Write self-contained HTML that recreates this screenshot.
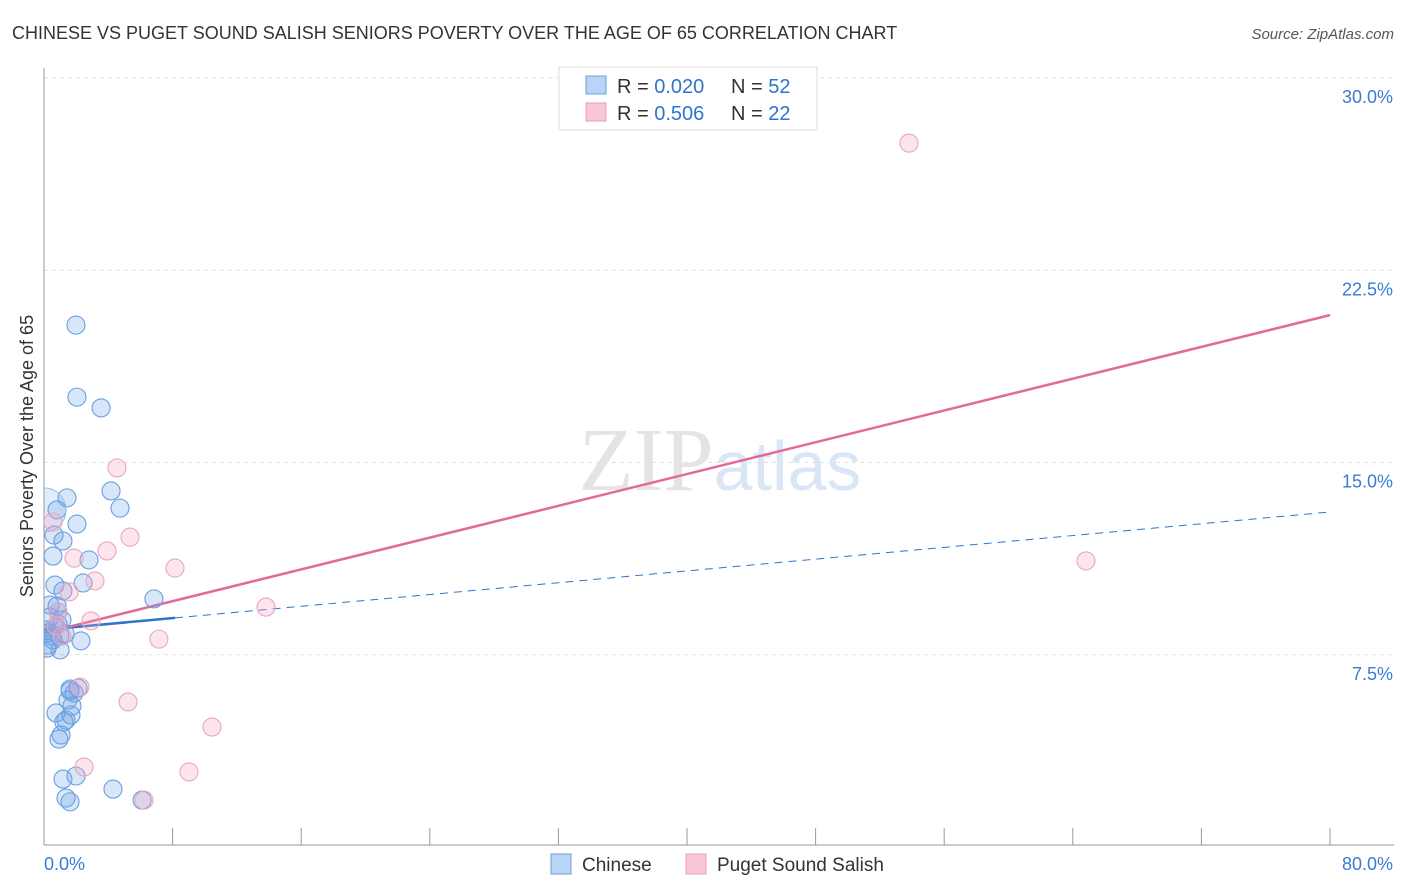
<!DOCTYPE html>
<html><head><meta charset="utf-8"><style>
body{margin:0;background:#fff;font-family:"Liberation Sans",sans-serif;}
svg{display:block}
</style></head><body>
<svg id="chart" width="1406" height="892" viewBox="0 0 1406 892" xmlns="http://www.w3.org/2000/svg">
<defs><clipPath id="plotclip"><rect x="44" y="60" width="1360" height="785"/></clipPath></defs>
<text x="12" y="39" font-size="18" fill="#333">CHINESE VS PUGET SOUND SALISH SENIORS POVERTY OVER THE AGE OF 65 CORRELATION CHART</text>
<text x="1394" y="39" font-size="15" fill="#555" text-anchor="end" font-style="italic">Source: ZipAtlas.com</text>
<text x="720" y="490" font-size="90" text-anchor="middle" font-family="Liberation Serif" fill="#e4e4e4">ZIP<tspan fill="#d8e6f6" font-family="Liberation Sans" font-size="70">atlas</tspan></text>
<text transform="translate(33,456) rotate(-90)" font-size="18" fill="#333" text-anchor="middle">Seniors Poverty Over the Age of 65</text>
<g id="grid"></g><g id="axes"></g><g id="lines"></g><g id="pts" clip-path="url(#plotclip)"></g>
<g>
<rect x="559" y="67" width="258" height="63" fill="#fff" stroke="#ddd"/>
<rect x="586" y="76" width="20" height="18" fill="#b8d4f6" stroke="#6a9fe0"/>
<text x="617" y="93" font-size="20" fill="#333">R = <tspan fill="#2f73d0">0.020</tspan></text>
<text x="731" y="93" font-size="20" fill="#333">N = <tspan fill="#2f73d0">52</tspan></text>
<rect x="586" y="103" width="20" height="18" fill="#f9c8d8" stroke="#e8a0b8"/>
<text x="617" y="120" font-size="20" fill="#333">R = <tspan fill="#2f73d0">0.506</tspan></text>
<text x="731" y="120" font-size="20" fill="#333">N = <tspan fill="#2f73d0">22</tspan></text>
</g>
<g>
<rect x="551" y="854" width="20" height="20" fill="#b8d4f6" stroke="#6a9fe0"/>
<text x="582" y="871" font-size="19" fill="#333">Chinese</text>
<rect x="686" y="854" width="20" height="20" fill="#f9c8d8" stroke="#e8a0b8"/>
<text x="717" y="871" font-size="19" fill="#333">Puget Sound Salish</text>
</g>
</svg>
<script>
const blueX=[1.99,2.05,3.55,4.17,1.43,0.81,4.73,2.05,0.62,1.18,2.80,0.56,0.68,2.43,1.18,6.84,0.81,0.37,0.87,0.12,0.50,1.00,0.25,1.00,2.30,1.62,1.87,1.49,1.74,1.37,1.24,0.75,1.06,0.93,1.18,1.99,1.37,1.62,4.29,6.10,0.25,0.56,1.62,2.12,0.37,0.68,1.31,0.19,0.87,1.12,1.68];
const blueY=[20.36,17.55,17.13,13.89,13.62,13.15,13.22,12.60,12.17,11.94,11.20,11.35,10.22,10.30,9.99,9.68,9.40,8.97,8.70,8.47,8.23,8.23,7.88,7.69,8.04,6.16,6.01,5.73,5.50,4.95,4.88,5.23,4.37,4.21,2.65,2.77,1.91,1.76,2.26,1.83,8.35,8.08,6.09,6.20,9.44,8.58,8.31,7.76,9.17,8.86,5.15];
const pinkX=[53.81,4.54,0.56,5.35,3.92,1.87,8.15,3.17,1.56,0.87,2.92,0.75,13.81,7.15,2.24,5.23,10.45,2.49,9.02,6.22,64.82,1.12];
const pinkY=[27.46,14.79,12.68,12.09,11.55,11.27,10.88,10.38,9.95,9.17,8.82,8.62,9.36,8.11,6.24,5.66,4.68,3.12,2.93,1.83,11.16,8.23];
const yTicks=[7.5,15,22.5,30];
const yTickLabels=["7.5%","15.0%","22.5%","30.0%"];
const pinkLine=[8.35,20.75];
const blueLine=[8.47,13.07];
const blueSolidEnd=8.15;
const NS="http://www.w3.org/2000/svg";
const X=v=>44+v/80*1286, Y=v=>847-v/30*769;
function mk(p,t,a){const e=document.createElementNS(NS,t);for(const k in a)e.setAttribute(k,a[k]);document.getElementById(p).appendChild(e);return e;}
yTicks.forEach((t,i)=>{
 const g=mk('grid','line',{x1:44,x2:1394,y1:Y(t),y2:Y(t),stroke:'#e2e2e2','stroke-dasharray':'4,4'});
 
 
 const l=mk('axes','text',{x:1393,y:Y(t)+25,'font-size':18,fill:'#3a7bd5','text-anchor':'end'});
 l.textContent=yTickLabels[i];
 
 
});
const ax=mk('axes','line',{x1:44,x2:44,y1:68,y2:845,stroke:'#999'});


const bx=mk('axes','line',{x1:44,x2:1394,y1:845,y2:845,stroke:'#999'});


for(let i=0;i<=10;i++){const t=mk('axes','line',{x1:X(i*8),x2:X(i*8),y1:828,y2:845,stroke:'#999'});
 
 }
[["0.0%",44,"start"],["80.0%",1393,"end"]].forEach(d=>{const t=mk('axes','text',{x:d[1],y:870,'font-size':18,fill:'#3a7bd5','text-anchor':d[2]});t.textContent=d[0];
 
 });
function pts(xs,ys,fill,stroke,name){xs.forEach((x,i)=>{const c=mk('pts','circle',{cx:X(x),cy:Y(ys[i]),r:9,fill:fill,stroke:stroke,'stroke-width':1.1});
 
 });}
pts(blueX,blueY,'rgba(110,165,235,0.28)','#6a9fe0','chinese-point');
const big=mk('pts','circle',{cx:X(0),cy:Y(13.15),r:22,fill:'rgba(110,165,235,0.2)',stroke:'#9cbdea'});


pts(pinkX,pinkY,'rgba(245,160,190,0.28)','#eaa6bd','puget-sound-salish-point');
const bl1=mk('lines','line',{x1:X(0),y1:Y(blueLine[0]),x2:X(blueSolidEnd),y2:Y(blueLine[0]+(blueLine[1]-blueLine[0])*blueSolidEnd/80),stroke:'#2f73d0','stroke-width':2.5});


const bl2=mk('lines','line',{x1:X(blueSolidEnd),y1:Y(blueLine[0]+(blueLine[1]-blueLine[0])*blueSolidEnd/80),x2:X(80),y2:Y(blueLine[1]),stroke:'#2f73d0','stroke-width':1,'stroke-dasharray':'8,6'});


const pl=mk('lines','line',{x1:X(0),y1:Y(pinkLine[0]),x2:X(80),y2:Y(pinkLine[1]),stroke:'#e4689a','stroke-width':2.5});


</script>
</body></html>
